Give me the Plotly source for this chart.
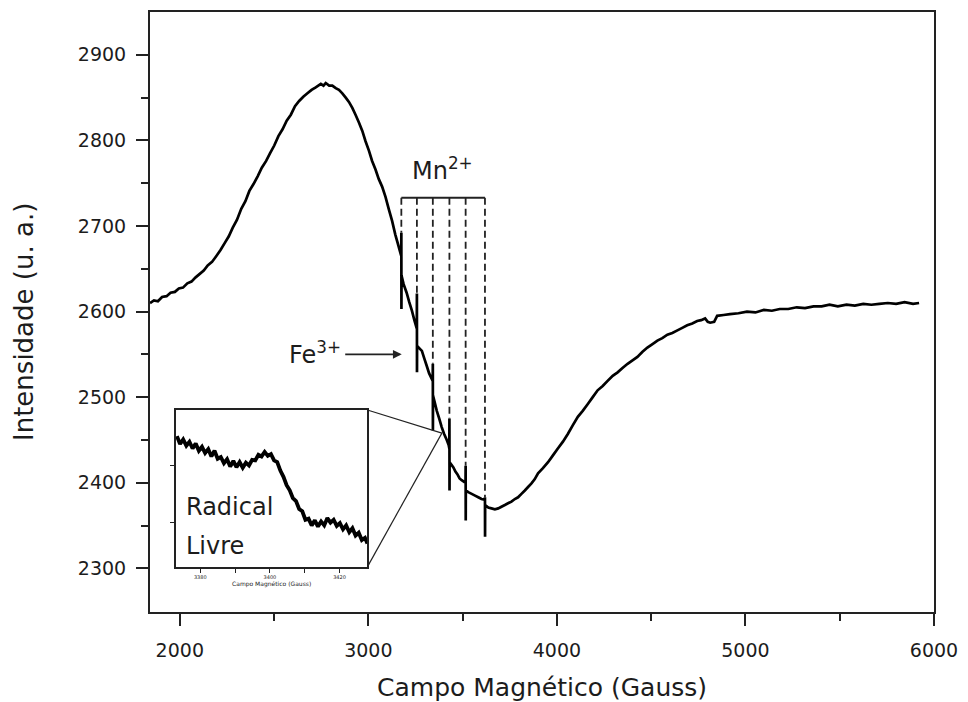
import plotly.graph_objects as go

# ---------------- EPR spectrum (field in Gauss, intensity in a.u.) ----------------
field = [
    1842, 1863, 1884, 1906, 1930, 1951, 1974, 1995, 2017, 2040, 2062, 2084, 2106, 2127,
    2148, 2171, 2194, 2216, 2238, 2260, 2281, 2303, 2326, 2348, 2369, 2391, 2413, 2435,
    2458, 2479, 2501, 2523, 2545, 2567, 2589, 2611, 2633, 2655, 2677, 2699, 2721, 2748,
    2762, 2774, 2792, 2809, 2827, 2844, 2862, 2880, 2897, 2915, 2932, 2950, 2968, 2985,
    3003, 3020, 3038, 3055, 3073, 3091, 3108, 3126, 3143, 3152,
    3174.5, 3175, 3175.5, 3176, 3187, 3203, 3217, 3231, 3244,
    3257, 3257.5, 3258, 3258.5, 3271, 3284, 3297, 3309, 3322,
    3341.5, 3342, 3342.5, 3343, 3352, 3363, 3376, 3389, 3402, 3416, 3426,
    3429.5, 3430, 3430.5, 3431, 3441, 3451, 3462, 3472, 3484, 3495, 3508,
    3515.5, 3516, 3516.5, 3517, 3530, 3548, 3566, 3583, 3600,
    3618, 3618.5, 3619, 3619.5, 3636, 3653, 3671, 3689, 3706, 3724, 3741, 3759, 3777,
    3794, 3812, 3830, 3847, 3864, 3882, 3900, 3926, 3953, 3979, 4005, 4032, 4058, 4084,
    4111, 4137, 4164, 4190, 4216, 4243, 4269, 4296, 4322, 4348, 4375, 4401, 4427, 4454,
    4480, 4507, 4533, 4559, 4586, 4612, 4639, 4665, 4691, 4718, 4744, 4765, 4786, 4800,
    4813, 4834, 4850, 4884, 4918, 4963, 5008, 5053, 5098, 5140, 5182, 5227, 5272, 5316,
    5361, 5404, 5446, 5490, 5536, 5580, 5625, 5668, 5710, 5755, 5799, 5844, 5889, 5921,
]
intensity = [
    2610, 2613, 2612, 2617, 2618, 2622, 2623, 2627, 2628, 2633, 2635, 2640, 2644, 2648,
    2654, 2658, 2665, 2672, 2680, 2688, 2698, 2707, 2720, 2729, 2741, 2749, 2758, 2768,
    2776, 2785, 2794, 2805, 2813, 2823, 2830, 2840, 2846, 2851, 2855, 2859, 2862, 2866,
    2864, 2867, 2864, 2864, 2861, 2859, 2855, 2850, 2845, 2838, 2830, 2821, 2811, 2799,
    2788, 2776, 2766, 2755, 2746, 2734, 2720, 2706, 2690, 2683,
    2665, 2692, 2603, 2642, 2632, 2622, 2611, 2601, 2590,
    2580, 2621, 2529, 2560, 2557, 2554, 2545, 2537, 2528,
    2519, 2539, 2461, 2502, 2494, 2484, 2475, 2465, 2457, 2450, 2444,
    2440, 2475, 2391, 2424, 2421, 2418, 2413, 2410, 2405, 2403, 2401,
    2400, 2420, 2356, 2391, 2389, 2387, 2385, 2383, 2381,
    2380, 2383, 2337, 2374, 2371, 2370, 2369, 2370, 2372, 2374, 2376, 2378, 2381,
    2383, 2387, 2391, 2395, 2399, 2404, 2411, 2417, 2424, 2432, 2440, 2448, 2457, 2467,
    2477, 2484, 2492, 2500, 2508, 2513, 2519, 2525, 2529, 2534, 2539, 2543, 2547, 2553,
    2558, 2562, 2566, 2569, 2573, 2575, 2578, 2581, 2584, 2586, 2589, 2590, 2592, 2588,
    2587, 2588, 2595, 2596, 2597, 2598, 2600, 2599, 2602, 2601, 2603, 2603, 2605, 2604,
    2606, 2606, 2608, 2606, 2608, 2607, 2609, 2608, 2609, 2610, 2609, 2611, 2609, 2610,
]

# Mn2+ hyperfine sextet positions (Gauss) and the level of the marker bracket
mn_fields = [3175, 3257.5, 3342, 3430, 3516, 3618.5]
mn_bracket_level = 2733

# Fe3+ signal indicated by the arrow
fe_field, fe_intensity = 3177, 2550

# Region of the spectrum magnified in the inset (free radical signal)
radical_field, radical_intensity = 3390, 2458

# ---------------- magnified free-radical signal ----------------
inset_field = [
    3373.3, 3374.2, 3375.1, 3376.0, 3376.9, 3377.8, 3378.7, 3379.6, 3380.5, 3381.4,
    3382.3, 3383.2, 3384.1, 3385.0, 3385.9, 3386.8, 3387.7, 3388.6, 3389.5, 3390.4,
    3391.3, 3392.2, 3393.1, 3394.0, 3394.9, 3395.8, 3396.7, 3397.6, 3398.5, 3399.4,
    3400.3, 3401.2, 3402.1, 3403.0, 3403.9, 3404.8, 3405.7, 3406.6, 3407.5, 3408.4,
    3409.3, 3410.2, 3411.1, 3412.0, 3412.9, 3413.8, 3414.7, 3415.6, 3416.5, 3417.4,
    3418.3, 3419.2, 3420.1, 3421.0, 3421.9, 3422.8, 3423.7, 3424.6, 3425.5, 3426.4,
    3427.3, 3428.0,
]
inset_signal = [
    25.2, 23.8, 24.6, 23.5, 24.2, 23.0, 23.9, 22.6, 23.3, 22.2,
    22.9, 21.6, 22.6, 21.2, 21.5, 20.4, 21.1, 19.8, 20.8, 19.7,
    20.6, 19.6, 20.5, 20.0, 21.0, 20.9, 21.9, 21.6, 22.4, 21.7,
    22.0, 20.9, 20.6, 19.1, 18.0, 16.5, 15.6, 14.2, 13.7, 12.3,
    11.9, 10.4, 10.6, 9.4, 10.3, 9.2, 10.1, 9.4, 10.7, 9.9,
    10.4, 9.3, 9.8, 8.7, 9.4, 8.2, 8.9, 7.6, 8.1, 6.8,
    7.2, 6.2,
]

# ---------------- axes ----------------
x_range = [1842, 6000]
y_range = [2249, 2950]
x_ticks = [2000, 3000, 4000, 5000, 6000]
x_minor = [2500, 3500, 4500, 5500]
y_ticks = [2300, 2400, 2500, 2600, 2700, 2800, 2900]
y_minor = [2350, 2450, 2550, 2650, 2750, 2850]

inset_x_range = [3373, 3428]
inset_y_range = [2.06, 29.82]
inset_x_ticks = [3380, 3400, 3420]
inset_x_minor = [3390, 3410]
inset_y_ticks = [10, 20]
inset_dom_x = [0.0330, 0.2773]
inset_dom_y = [0.0752, 0.3367]

FONT = "DejaVu Sans"
INK = "#1c1c1c"
AXIS = "#222222"

fig = go.Figure()
fig.add_trace(go.Scatter(
    x=field, y=intensity, mode="lines", xaxis="x", yaxis="y",
    line=dict(color="black", width=2.7, simplify=False), showlegend=False,
    hoverinfo="skip",
))
fig.add_trace(go.Scatter(
    x=inset_field, y=inset_signal, mode="lines", xaxis="x2", yaxis="y2",
    line=dict(color="black", width=3.8, simplify=False), showlegend=False,
    hoverinfo="skip",
))

shapes = []
# dashed guides from the bracket down to each Mn2+ line
for f in mn_fields:
    top = max(v for g, v in zip(field, intensity) if abs(g - f) <= 1.0)
    shapes.append(dict(type="line", xref="x", yref="y", x0=f, x1=f,
                       y0=mn_bracket_level, y1=top,
                       line=dict(color=AXIS, width=1.8, dash="7px,4px")))
shapes.append(dict(type="line", xref="x", yref="y",
                   x0=mn_fields[0], x1=mn_fields[-1],
                   y0=mn_bracket_level, y1=mn_bracket_level,
                   line=dict(color=AXIS, width=1.8)))

# connector lines from the inset to the magnified region
corner_x = x_range[0] + inset_dom_x[1] * (x_range[1] - x_range[0])
for d in inset_dom_y:
    corner_y = y_range[0] + d * (y_range[1] - y_range[0])
    shapes.append(dict(type="line", xref="x", yref="y",
                       x0=corner_x, y0=corner_y, x1=radical_field, y1=radical_intensity,
                       line=dict(color=AXIS, width=1.2)))

annotations = [
    dict(text="Campo Magnético (Gauss)", xref="paper", yref="paper", x=0.5, y=-0.126,
         xanchor="center", yanchor="middle", showarrow=False,
         font=dict(family=FONT, size=25, color=INK)),
    dict(text="Intensidade (u. a.)", xref="paper", yref="paper", x=-0.161, y=0.483,
         xanchor="center", yanchor="middle", textangle=-90, showarrow=False,
         font=dict(family=FONT, size=26, color=INK)),
    dict(text="Mn<sup>2+</sup>", xref="x", yref="y", x=3392, y=2745,
         xanchor="center", yanchor="bottom", showarrow=False,
         font=dict(family=FONT, size=24, color=INK)),
    dict(text="", xref="x", yref="y", x=fe_field, y=fe_intensity,
         ax=-58, ay=0, showarrow=True, arrowhead=2, arrowsize=1.1, arrowwidth=1.6,
         arrowcolor=AXIS),
    dict(text="Fe<sup>3+</sup>", xref="x", yref="y", x=2868, y=fe_intensity + 2,
         xanchor="right", yanchor="middle", showarrow=False,
         font=dict(family=FONT, size=24, color=INK)),
    dict(text="Radical", xref="paper", yref="paper", x=(184 - 150) / 788, y=(612 - 507) / 602,
         xanchor="left", yanchor="middle", showarrow=False,
         font=dict(family=FONT, size=24, color=INK)),
    dict(text="Livre", xref="paper", yref="paper", x=(184 - 150) / 788, y=(612 - 546) / 602,
         xanchor="left", yanchor="middle", showarrow=False,
         font=dict(family=FONT, size=24, color=INK)),
]

main_axis = dict(showgrid=False, zeroline=False, showline=True, linewidth=2,
                 linecolor=AXIS, mirror=True, ticks="outside", ticklen=12, tickwidth=2,
                 tickcolor=AXIS, tickfont=dict(family=FONT, size=19, color=INK))
inset_axis = dict(showgrid=False, zeroline=False, showline=True, linewidth=1.5,
                  linecolor=AXIS, mirror=True, ticks="outside", ticklen=4, tickwidth=1.3,
                  tickcolor=AXIS, tickfont=dict(family=FONT, size=5, color=INK))

fig.update_layout(
    width=968, height=702,
    margin=dict(l=150, r=30, t=10, b=90),
    paper_bgcolor="white", plot_bgcolor="white",
    xaxis=dict(main_axis, range=x_range, tickvals=x_ticks,
               ticktext=[str(t) for t in x_ticks], ticklabelstandoff=8,
               minor=dict(tickvals=x_minor, ticks="outside", ticklen=7, tickwidth=2,
                          tickcolor=AXIS)),
    yaxis=dict(main_axis, range=y_range, tickvals=y_ticks,
               ticktext=[str(t) for t in y_ticks], ticklabelstandoff=6,
               minor=dict(tickvals=y_minor, ticks="outside", ticklen=7, tickwidth=2,
                          tickcolor=AXIS)),
    xaxis2=dict(inset_axis, domain=inset_dom_x, anchor="y2", range=inset_x_range,
                tickvals=inset_x_ticks, ticktext=[str(t) for t in inset_x_ticks],
                minor=dict(tickvals=inset_x_minor, ticks="outside", ticklen=4,
                           tickwidth=1.3, tickcolor=AXIS),
                title=dict(text="Campo Magnético (Gauss)", standoff=2,
                           font=dict(family=FONT, size=6, color=INK))),
    yaxis2=dict(inset_axis, domain=inset_dom_y, anchor="x2", range=inset_y_range,
                tickvals=inset_y_ticks, showticklabels=False),
    shapes=shapes,
    annotations=annotations,
)

fig.write_html("out.html")
